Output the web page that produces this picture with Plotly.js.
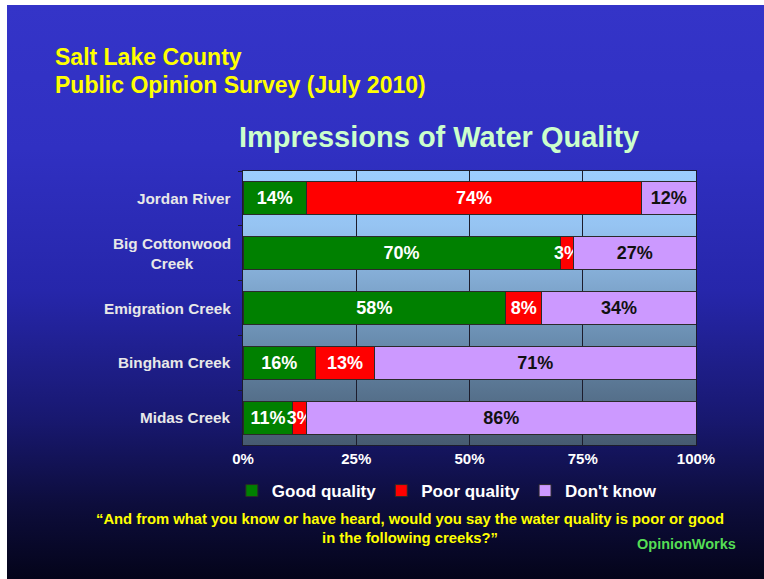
<!DOCTYPE html>
<html>
<head>
<meta charset="utf-8">
<script src="https://cdn.plot.ly/plotly-3.0.1.min.js"></script>
<style>
  html, body { margin: 0; padding: 0; background: #ffffff; }
  #wrap { position: relative; width: 764px; height: 579px; overflow: hidden; background: #ffffff; }
  #bg { position: absolute; left: 7px; top: 5px; width: 757px; height: 574px;
        background: linear-gradient(to bottom, #3434c8 0%, #3030c2 25%, #2626aa 50%, #181870 72%, #0d0d3c 87%, #04041a 100%); }
  #chart { position: absolute; left: 0; top: 0; width: 764px; height: 579px; }
</style>
</head>
<body>
<div id="wrap"><div id="bg"></div><div id="chart"></div></div>
<script>
// ---- data ----
const categories = ["Jordan River", "Big Cottonwood Creek", "Emigration Creek", "Bingham Creek", "Midas Creek"];
const categoryLabels = ["Jordan River", "Big Cottonwood<br>Creek", "Emigration Creek", "Bingham Creek", "Midas Creek"];
const seriesNames = ["Good quality", "Poor quality", "Don't know"];
const goodQuality = [14, 70, 58, 16, 11];
const poorQuality = [74, 3, 8, 13, 3];
const dontKnow = [12, 27, 34, 71, 86];
const xTickValues = [0, 25, 50, 75, 100];
const xTickLabels = ["0%", "25%", "50%", "75%", "100%"];

const FONT = "Liberation Sans, Arial, sans-serif";
const seriesValues = [goodQuality, poorQuality, dontKnow];
const seriesColors = ["#008000", "#ff0000", "#cc99ff"];
const textColors = ["#ffffff", "#ffffff", "#111111"];

const traces = seriesValues.map((vals, i) => ({
  type: "bar",
  orientation: "h",
  name: seriesNames[i],
  y: categories,
  x: vals,
  marker: { color: seriesColors[i], line: { color: "#2a2a2a", width: 1 } },
  text: vals.map(v => v + "%"),
  texttemplate: "%{text}",
  textposition: "inside",
  insidetextanchor: "middle",
  textangle: 0,
  constraintext: "none",
  cliponaxis: false,
  textfont: { family: FONT, size: 18, color: textColors[i], weight: "bold" },
  hoverinfo: "skip"
}));

const gradSvg = "<svg xmlns='http://www.w3.org/2000/svg' width='100' height='100' preserveAspectRatio='none'>" +
  "<defs><linearGradient id='g' x1='0' y1='0' x2='0' y2='1'>" +
  "<stop offset='0' stop-color='#9ccdff'/><stop offset='0.2' stop-color='#96c4f2'/>" +
  "<stop offset='0.4' stop-color='#82aad2'/><stop offset='0.6' stop-color='#6b8fb2'/>" +
  "<stop offset='0.8' stop-color='#587490'/><stop offset='1' stop-color='#465a70'/>" +
  "</linearGradient></defs><rect width='100' height='100' fill='url(#g)'/></svg>";

const annotations = [
  { text: "Salt Lake County", xref: "paper", yref: "paper", x: -0.42, y: 1.415, xanchor: "left", yanchor: "middle",
    showarrow: false, font: { family: FONT, size: 23, color: "#ffff00", weight: "bold" } },
  { text: "Public Opinion Survey (July 2010)", xref: "paper", yref: "paper", x: -0.42, y: 1.313, xanchor: "left", yanchor: "middle",
    showarrow: false, font: { family: FONT, size: 23, color: "#ffff00", weight: "bold" } },
  { text: "Impressions of Water Quality", xref: "paper", yref: "paper", x: 0.433, y: 1.124, xanchor: "center", yanchor: "middle",
    showarrow: false, font: { family: FONT, size: 29, color: "#ccffcc", weight: "bold" } },
  { text: "\u201cAnd from what you know or have heard, would you say the water quality is poor or good<br>in the following creeks?\u201d",
    xref: "paper", yref: "paper", x: 0.369, y: -0.303, xanchor: "center", yanchor: "middle", align: "center",
    showarrow: false, font: { family: FONT, size: 14.8, color: "#ffff00", weight: "bold" } },
  { text: "OpinionWorks", xref: "paper", yref: "paper", x: 1.092, y: -0.361, xanchor: "right", yanchor: "middle",
    showarrow: false, font: { family: FONT, size: 14.5, color: "#55dd55", weight: "bold" } }
];
categories.forEach((c, i) => {
  annotations.push({ text: categoryLabels[i], xref: "paper", yref: "y", x: 0, y: c, xanchor: "right", yanchor: "middle",
    xshift: -10, align: "center", showarrow: false,
    font: { family: FONT, size: 15.3, color: "#e8e8e8", weight: "bold" } });
});

const layout = {
  width: 764, height: 579,
  margin: { l: 243, r: 68, t: 171, b: 134, pad: 0 },
  paper_bgcolor: "rgba(0,0,0,0)",
  plot_bgcolor: "rgba(0,0,0,0)",
  barmode: "stack",
  bargap: 0.4,
  showlegend: true,
  legend: { orientation: "h", x: 0.45, y: -0.168, xanchor: "center", yanchor: "middle",
    font: { family: FONT, size: 17, color: "#ffffff", weight: "bold" }, itemwidth: 30,
    bgcolor: "rgba(0,0,0,0)", traceorder: "normal" },
  xaxis: { range: [0, 100], tickvals: xTickValues, ticktext: xTickLabels, showgrid: true,
    gridcolor: "#1c1c2c", gridwidth: 1, zeroline: false, showline: true, mirror: true,
    linecolor: "#1c1c2c", linewidth: 1, ticks: "", fixedrange: true,
    tickfont: { family: FONT, size: 15, color: "#ffffff", weight: "bold" } },
  yaxis: { type: "category", categoryorder: "array", categoryarray: categories, autorange: "reversed",
    showticklabels: false, ticks: "outside", tickson: "boundaries", ticklen: 4, tickcolor: "#1c1c2c",
    showgrid: false, zeroline: false, showline: true, mirror: true, linecolor: "#1c1c2c", linewidth: 1, fixedrange: true },
  images: [{ source: "data:image/svg+xml;charset=utf-8," + encodeURIComponent(gradSvg),
    xref: "paper", yref: "paper", x: 0, y: 1, sizex: 1, sizey: 1, sizing: "stretch",
    xanchor: "left", yanchor: "top", layer: "below" }],
  annotations: annotations
};

Plotly.newPlot("chart", traces, layout, { displayModeBar: false, staticPlot: true });
</script>
</body>
</html>
